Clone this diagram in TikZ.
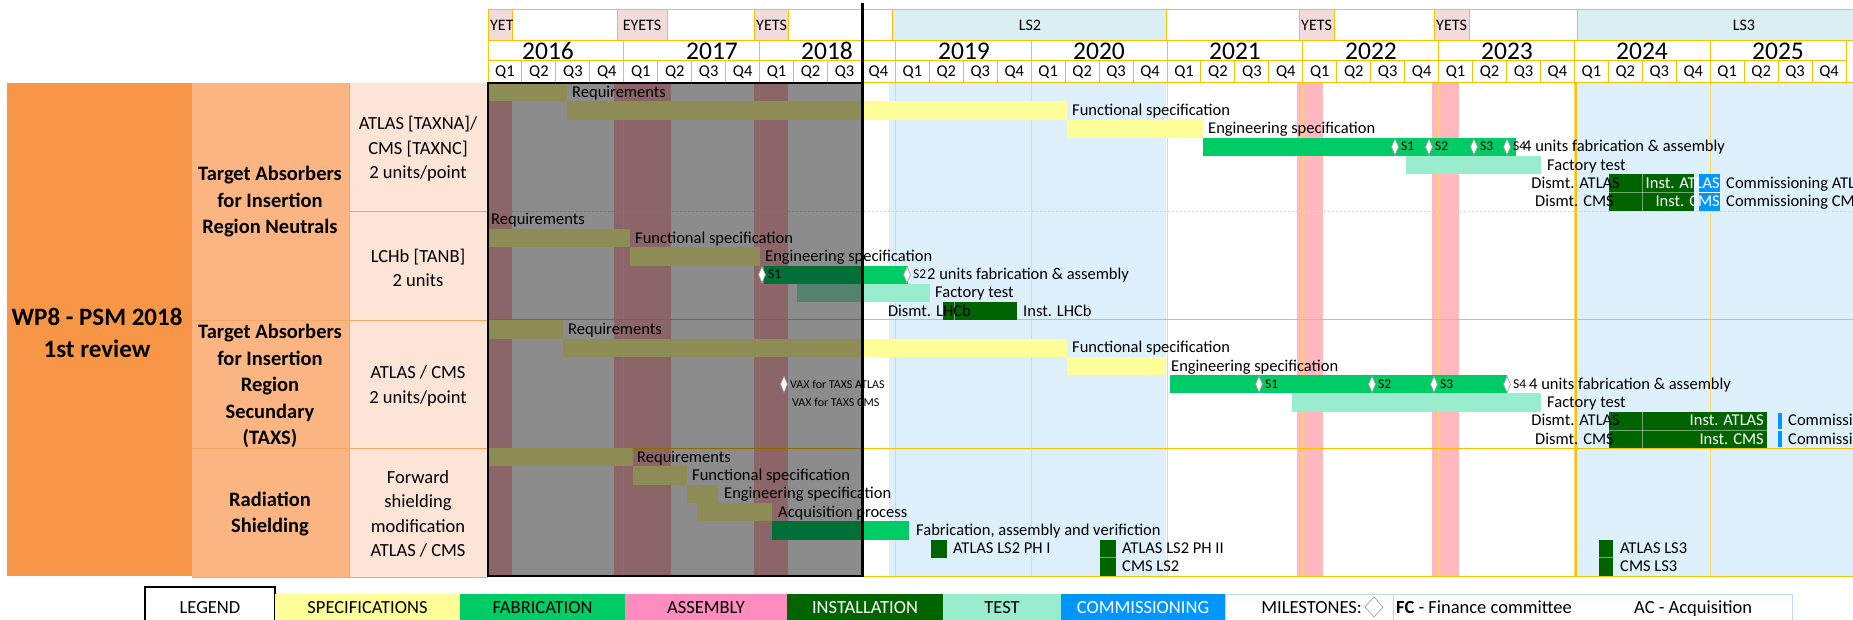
\documentclass[tikz,border=0pt]{standalone}
\usepackage{fontspec}
\setmainfont{Carlito}
\definecolor{gold}{RGB}{255,192,0}
\definecolor{goldl}{RGB}{255,217,102}
\definecolor{spec}{RGB}{255,255,153}
\definecolor{fab}{RGB}{0,204,102}
\definecolor{inst}{RGB}{0,100,0}
\definecolor{test}{RGB}{153,236,204}
\definecolor{comm}{RGB}{0,150,255}
\definecolor{asm}{RGB}{255,140,190}
\definecolor{ls}{RGB}{222,240,252}
\definecolor{lshead}{RGB}{218,238,243}
\definecolor{yets}{RGB}{255,185,190}
\definecolor{yetshead}{RGB}{242,220,219}
\definecolor{orA}{RGB}{247,150,70}
\definecolor{orB}{RGB}{250,181,130}
\definecolor{orC}{RGB}{252,229,214}
\definecolor{orline}{RGB}{245,165,100}
\definecolor{legline}{RGB}{190,220,240}
\def\RT{83}
\def\RH{18.26}
\newcommand\gb[4]{\fill[#1] (#2,{\RT+\RH*#4}) rectangle (#3,{\RT+\RH*(#4+1)});}
\newcommand\gbb[4]{\fill[#1] (#2,{\RT+\RH*#4}) rectangle (#3,{\RT+\RH*(#4+2)});}
\newcommand\lb[4]{\node[lab] (#1) at (#2,{\RT+\RH*(#3+0.5)}) {#4};}
\newcommand\lbe[4]{\node[lab,anchor=east] (#1) at (#2,{\RT+\RH*(#3+0.5)}) {#4};}
\newcommand\lbw[4]{\node[wlab] (#1) at (#2,{\RT+\RH*(#3+0.5)}) {#4};}
\newcommand\ms[2]{\draw[msd] (#1,{\RT+\RH*#2+1}) -- ++(3.5,{\RH/2-1}) -- ++(-3.5,{\RH/2-1}) -- ++(-3.5,{-\RH/2+1}) -- cycle;}
\begin{document}
\begin{tikzpicture}[x=1pt,y=-1pt,
 lab/.style={font=\fontsize{16.5}{18}\selectfont, inner sep=0pt, anchor=west, text height=10pt, text depth=0pt},
 wlab/.style={lab, anchor=east, text=white},
 slab/.style={font=\fontsize{13.5}{15}\selectfont, inner sep=0pt, anchor=west, text height=8pt, text depth=0pt},
 vlab/.style={font=\fontsize{12}{14}\selectfont, inner sep=0pt, anchor=west, text height=8pt, text depth=0pt},
 hdr/.style={font=\fontsize{16}{18}\selectfont, inner sep=0pt, text height=10pt, text depth=0pt},
 yr/.style={font=\fontsize{25.5}{27}\selectfont, inner sep=0pt, text height=16pt, text depth=0pt},
 qlab/.style={font=\fontsize{16.5}{18}\selectfont, inner sep=0pt, text height=10pt, text depth=0pt},
 grp/.style={font=\bfseries\fontsize{20.5}{26.5}\selectfont, align=center, inner sep=0pt},
 sub/.style={font=\fontsize{18.5}{24.5}\selectfont, align=center, inner sep=0pt},
 wp/.style={font=\bfseries\fontsize{25}{32}\selectfont, align=center, inner sep=0pt},
 leg/.style={font=\fontsize{18.5}{20}\selectfont, inner sep=0pt, text height=12pt, text depth=0pt},
 msd/.style={draw=gray!80, fill=white, line width=0.6pt},
 cell/.style={draw=gold, line width=1pt},
 divl/.style={draw=white, draw opacity=0.45, line width=0.7pt}]
\useasboundingbox (0,0) rectangle (1853,620);
\fill[white] (0,0) rectangle (1853,620);
% ---------- left columns
\fill[orA] (7,83) rectangle (192,576);
\fill[orB] (192,83) rectangle (349,577);
\fill[orC] (349,83) rectangle (488,577);
\draw[orline] (349,83) -- (349,577);
\draw[orline] (349,211) -- (488,211);
\draw[orline] (192,320) -- (488,320);
\draw[orline] (192,448) -- (488,448);
\draw[orline] (192,577) -- (488,577);
\node[wp] (wp) at (97,333) {WP8 - PSM 2018\\1st review};
\node[grp] (g1) at (270,202) {Target Absorbers\\for Insertion\\Region Neutrals};
\node[grp] (g2) at (270,386) {Target Absorbers\\for Insertion\\Region\\Secundary\\(TAXS)};
\node[grp] (g3) at (270,514) {Radiation\\Shielding};
\node[sub] (s1) at (418,149) {ATLAS [TAXNA]/\\CMS [TAXNC]\\2 units/point};
\node[sub] (s2) at (418,268) {LCHb [TANB]\\2 units};
\node[sub] (s3) at (418,386) {ATLAS / CMS\\2 units/point};
\node[sub] (s4) at (418,514) {Forward\\shielding\\modification\\ATLAS / CMS};
% ---------- header
\foreach \a/\b/\c in {488/512/yetshead,512/617/white,617/667/yetshead,667/754/white,754/788/yetshead,788/892/white,892/1166/lshead,1166/1299/white,1299/1334/yetshead,1334/1434/white,1434/1469/yetshead,1469/1577/white,1577/1860/lshead}
  \filldraw[cell,fill=\c] (\a,10) rectangle (\b,41);
\begin{scope}\clip (488,10) rectangle (512,41); \node[hdr,anchor=west] (hy1) at (490,26) {YETS};\end{scope}
\node[hdr] (hy2) at (642,26) {EYETS};
\begin{scope}\clip (754,10) rectangle (788,41); \node[hdr,anchor=west] (hy3) at (756,26) {YETS};\end{scope}
\node[hdr] (hls2) at (1030,26) {LS2};
\begin{scope}\clip (1299,10) rectangle (1334,41); \node[hdr,anchor=west] (hy4) at (1301,26) {YETS};\end{scope}
\begin{scope}\clip (1434,10) rectangle (1469,41); \node[hdr,anchor=west] (hy5) at (1436,26) {YETS};\end{scope}
\node[hdr] (hls3) at (1744,26) {LS3};
\foreach \i in {0,...,9} \draw[cell] ({488+135.8*\i},41) rectangle ({488+135.8*(\i+1)},61);
\foreach \yv/\xc in {2016/548,2017/712,2018/827,2019/964,2020/1099,2021/1235,2022/1371,2023/1507,2024/1642,2025/1778}
  \node[yr] (y\yv) at (\xc,52) {\yv};
\foreach \i in {0,...,39} {
  \pgfmathtruncatemacro\qq{mod(\i,4)+1}
  \draw[cell] ({488+33.95*\i},61) rectangle ({488+33.95*(\i+1)},83);
  \node[qlab] (q\i) at ({488+33.95*(\i+0.5)},72) {Q\qq};
}
% ---------- chart background
\fill[ls] (889,83) rectangle (1166,576);
\fill[ls] (1577,83) rectangle (1853,576);
\foreach \a/\b in {488/512,614/671,754/788,1297/1323,1432/1459}
  \fill[yets] (\a,83) rectangle (\b,576);
\foreach \i in {1,...,9} \draw[goldl,line width=0.7pt] ({488+135.8*\i},83) -- ++(0,493);
\draw[gold,line width=1.3pt] (1576,83) -- (1576,576);
\draw[gold,line width=1pt] (488,83) -- (1853,83);
\draw[goldl,line width=0.5pt,dash pattern=on 2pt off 2pt] (488,211) -- (1853,211);
\foreach \yy in {320,448,576} \draw[gold,line width=1pt] (488,\yy) -- (1853,\yy);
% ---------- bars group 1
\gb{spec}{488}{567}{0}
\gb{spec}{567}{1067}{1}
\gb{spec}{1067}{1203}{2}
\gb{fab}{1203}{1516}{3}
\gb{test}{1406}{1541}{4}
\gbb{inst}{1609}{1694}{5}
\draw[divl] (1642,{\RT+\RH*5}) -- (1642,{\RT+\RH*7});
\draw[divl] (1609,{\RT+\RH*6}) -- (1694,{\RT+\RH*6});
\gbb{comm}{1699}{1720}{5}
\draw[white,line width=0.7pt] (1699,{\RT+\RH*6}) -- (1720,{\RT+\RH*6});
% group 2
\gb{spec}{488}{630}{8}
\gb{spec}{630}{760}{9}
\gb{fab}{764}{908}{10}
\gb{test}{797}{930}{11}
\gb{inst}{943}{1017}{12}
\draw[divl] (954,{\RT+\RH*12}) -- (954,{\RT+\RH*13});
% group 3
\gb{spec}{488}{563}{13}
\gb{spec}{563}{1067}{14}
\gb{spec}{1067}{1166}{15}
\gb{fab}{1170}{1507}{16}
\gb{test}{1292}{1541}{17}
\gbb{inst}{1609}{1767}{18}
\draw[divl] (1642,{\RT+\RH*18}) -- (1642,{\RT+\RH*20});
\draw[divl] (1609,{\RT+\RH*19}) -- (1767,{\RT+\RH*19});
\fill[comm] (1778,{\RT+\RH*18+1}) rectangle (1782,{\RT+\RH*19-1});
\fill[comm] (1778,{\RT+\RH*19+1}) rectangle (1782,{\RT+\RH*20-1});
% group 4
\gb{spec}{488}{633}{20}
\gb{spec}{633}{687}{21}
\gb{spec}{687}{718}{22}
\gb{spec}{697}{772}{23}
\gb{fab}{772}{909}{24}
\gb{inst}{931}{947}{25}
\gbb{inst}{1100}{1116}{25}
\draw[divl] (1100,{\RT+\RH*26}) -- (1116,{\RT+\RH*26});
\gbb{inst}{1599}{1613}{25}
\draw[divl] (1599,{\RT+\RH*26}) -- (1613,{\RT+\RH*26});
% ---------- labels
\lb{l0}{572}{0}{Requirements}
\lb{l1}{1072}{1}{Functional specification}
\lb{l2}{1208}{2}{Engineering specification}
\lb{l3}{1523}{3}{4 units fabrication \& assembly}
\lb{l4}{1547}{4}{Factory test}
\lbe{l5a}{1620}{5}{Dismt. ATLAS}
\lbw{l5b}{1720}{5}{Inst. ATLAS}
\lb{l5c}{1726}{5}{Commissioning ATLAS}
\lbe{l6a}{1614}{6}{Dismt. CMS}
\lbw{l6b}{1720}{6}{Inst. CMS}
\lb{l6c}{1726}{6}{Commissioning CMS}
\lb{l7}{491}{7}{Requirements}
\lb{l8}{635}{8}{Functional specification}
\lb{l9}{765}{9}{Engineering specification}
\lb{l10}{927}{10}{2 units fabrication \& assembly}
\lb{l11}{935}{11}{Factory test}
\lbe{l12a}{971}{12}{Dismt. LHCb}
\lb{l12b}{1023}{12}{Inst. LHCb}
\lb{l13}{568}{13}{Requirements}
\lb{l14}{1072}{14}{Functional specification}
\lb{l15}{1171}{15}{Engineering specification}
\lb{l16}{1529}{16}{4 units fabrication \& assembly}
\lb{l17}{1547}{17}{Factory test}
\lbe{l18a}{1620}{18}{Dismt. ATLAS}
\lbw{l18b}{1764}{18}{Inst. ATLAS}
\lb{l18c}{1788}{18}{Commissioning ATLAS}
\lbe{l19a}{1614}{19}{Dismt. CMS}
\lbw{l19b}{1764}{19}{Inst. CMS}
\lb{l19c}{1788}{19}{Commissioning CMS}
\lb{l20}{637}{20}{Requirements}
\lb{l21}{692}{21}{Functional specification}
\lb{l22}{724}{22}{Engineering specification}
\lb{l23}{778}{23}{Acquisition process}
\lb{l24}{916}{24}{Fabrication, assembly and verifiction}
\lb{l25a}{953}{25}{ATLAS LS2 PH I}
\lb{l25b}{1122}{25}{ATLAS LS2 PH II}
\lb{l25c}{1620}{25}{ATLAS LS3}
\lb{l26b}{1122}{26}{CMS LS2}
\lb{l26c}{1620}{26}{CMS LS3}
% ---------- past overlay
\fill[black,opacity=0.45] (488,83) rectangle (862,576);
\draw[black,line width=1.5pt] (488,83) rectangle (862,576);
% ---------- milestones
\foreach \x/\s in {1395/1,1429/2,1474/3,1507/4} {\ms{\x}{3} \node[slab] (a\s) at (\x+6,{\RT+\RH*3.5}) {S\s};}
\ms{762}{10} \node[slab] (b1) at (768,{\RT+\RH*10.5}) {S1};
\ms{907}{10} \node[slab] (b2) at (913,{\RT+\RH*10.5}) {S2};
\foreach \x/\s in {1259/1,1372/2,1434/3,1507/4} {\ms{\x}{16} \node[slab] (c\s) at (\x+6,{\RT+\RH*16.5}) {S\s};}
\ms{784}{16}
\node[vlab] (v1) at (790,{\RT+\RH*16.5}) {VAX for TAXS ATLAS};
\node[vlab] (v2) at (792,{\RT+\RH*17.5}) {VAX for TAXS CMS};
% ---------- today line
\draw[black,line width=3pt] (862,3) -- (862,577);
% ---------- legend
\filldraw[draw=black,line width=1.5pt,fill=white] (145,587) rectangle (275,624);
\node[leg] (lg0) at (210,607) {LEGEND};
\foreach \a/\b/\c/\t/\tc/\n in {275/460/spec/SPECIFICATIONS/black/lg1,460/625/fab/FABRICATION/black/lg2,625/787/asm/ASSEMBLY/black/lg3,787/943/inst/INSTALLATION/white/lg4,943/1061/test/TEST/black/lg5,1061/1225/comm/COMMISSIONING/white/lg6} {
  \fill[\c] (\a,594) rectangle (\b,624);
  \node[leg,text=\tc] (\n) at ({(\a+\b)/2},607) {\t};
}
\draw[legline] (1225,594) rectangle (1393,624);
\draw[legline] (1393,594) rectangle (1792,624);
\node[leg,anchor=east] (lg7) at (1362,607) {MILESTONES:};
\draw[msd] (1374,597) -- (1383,607) -- (1374,617) -- (1365,607) -- cycle;
\node[leg,anchor=west] (lg8) at (1396,607) {\textbf{FC} - Finance committee};
\node[leg,anchor=west] (lg9) at (1634,607) {AC - Acquisition};
\end{tikzpicture}
\end{document}
